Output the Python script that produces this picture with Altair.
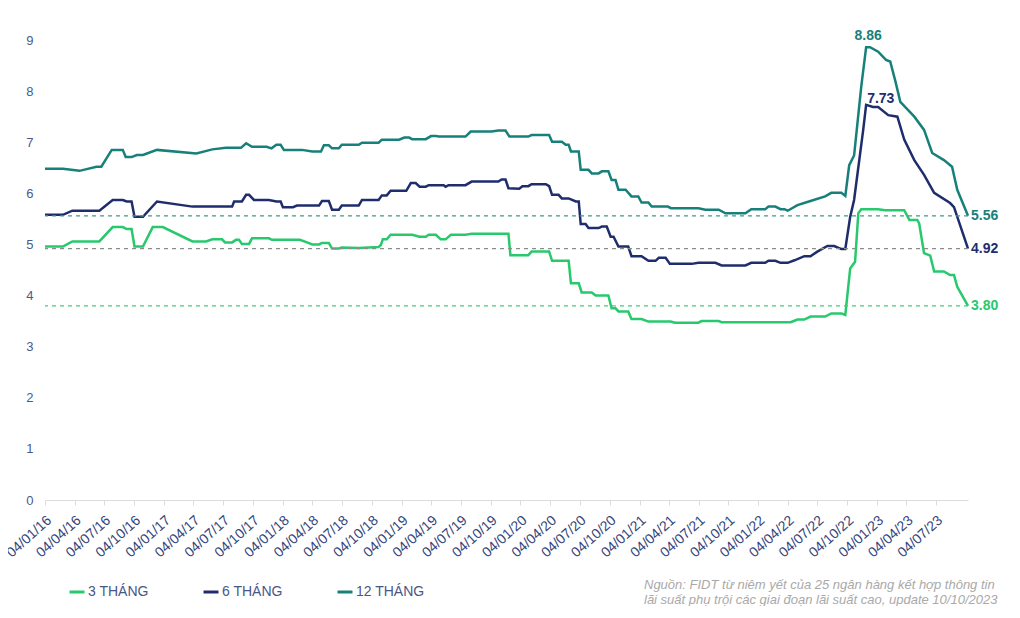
import altair as alt
import pandas as pd

series_names = ["3 THÁNG", "6 THÁNG", "12 THÁNG"]
series_colors = ["#27c96c", "#1f2d6d", "#17807a"]

dates_3m = ["2016-01-04", "2016-02-28", "2016-03-28", "2016-06-19", "2016-07-30", "2016-08-30",
            "2016-09-11", "2016-09-26", "2016-10-05", "2016-10-31", "2016-11-30", "2016-12-31",
            "2017-04-01", "2017-05-13", "2017-06-01", "2017-07-01", "2017-07-10", "2017-08-01",
            "2017-08-13", "2017-08-22", "2017-08-31", "2017-09-22", "2017-10-01", "2017-11-22",
            "2017-12-01", "2018-02-25", "2018-03-19", "2018-04-04", "2018-04-25", "2018-05-04",
            "2018-05-25", "2018-06-04", "2018-06-25", "2018-07-04", "2018-08-25", "2018-10-25",
            "2018-11-01", "2018-11-07", "2018-11-19", "2018-12-01", "2019-02-05", "2019-02-28",
            "2019-03-19", "2019-03-28", "2019-04-19", "2019-05-04", "2019-05-19", "2019-06-04",
            "2019-07-19", "2019-08-07", "2019-11-28", "2019-12-04", "2020-01-28", "2020-02-07",
            "2020-04-01", "2020-04-10", "2020-05-31", "2020-06-07", "2020-07-01", "2020-07-10",
            "2020-08-10", "2020-08-22", "2020-09-30", "2020-10-10", "2020-10-22", "2020-10-31",
            "2020-11-30", "2020-12-10", "2021-01-10", "2021-01-31", "2021-04-10", "2021-04-22",
            "2021-07-04", "2021-07-13", "2021-09-04", "2021-09-13", "2022-04-13", "2022-05-04",
            "2022-05-25", "2022-06-13", "2022-07-28", "2022-08-16", "2022-09-16", "2022-09-28",
            "2022-10-13", "2022-10-28", "2022-11-07", "2022-11-16", "2023-01-07", "2023-01-28",
            "2023-03-28", "2023-04-13", "2023-05-07", "2023-05-13", "2023-05-28", "2023-06-16",
            "2023-06-28", "2023-07-28", "2023-08-16", "2023-08-28", "2023-09-07", "2023-10-10"]
vals_3m = [4.96, 4.96, 5.06, 5.06, 5.34, 5.34,
           5.30, 5.30, 4.96, 4.96, 5.34, 5.34,
           5.06, 5.06, 5.10, 5.10, 5.04, 5.04,
           5.09, 5.09, 5.01, 5.01, 5.12, 5.12,
           5.09, 5.09, 5.04, 5.00, 5.00, 5.03,
           5.03, 4.92, 4.92, 4.94, 4.93, 4.95,
           4.99, 5.10, 5.10, 5.19, 5.19, 5.15,
           5.15, 5.19, 5.19, 5.10, 5.10, 5.19,
           5.19, 5.21, 5.21, 4.79, 4.79, 4.86,
           4.86, 4.68, 4.68, 4.24, 4.24, 4.06,
           4.06, 4.00, 4.00, 3.75, 3.75, 3.69,
           3.69, 3.54, 3.54, 3.49, 3.49, 3.47,
           3.47, 3.50, 3.50, 3.48, 3.48, 3.53,
           3.53, 3.59, 3.59, 3.65, 3.65, 3.62,
           4.53, 4.66, 5.61, 5.69, 5.69, 5.67,
           5.67, 5.48, 5.48, 5.41, 4.83, 4.78,
           4.47, 4.47, 4.40, 4.40, 4.17, 3.80]

dates_6m = ["2016-01-04", "2016-02-28", "2016-03-28", "2016-06-19", "2016-07-30", "2016-08-30",
            "2016-09-11", "2016-09-26", "2016-10-05", "2016-10-31", "2016-12-13", "2017-04-01",
            "2017-08-01", "2017-08-07", "2017-08-31", "2017-09-13", "2017-09-22", "2017-10-07",
            "2017-11-22", "2017-12-15", "2017-12-28", "2018-01-04", "2018-02-04", "2018-02-16",
            "2018-04-25", "2018-05-04", "2018-05-25", "2018-06-04", "2018-06-25", "2018-07-04",
            "2018-08-25", "2018-09-04", "2018-10-25", "2018-11-04", "2018-11-19", "2018-12-01",
            "2019-01-18", "2019-02-01", "2019-02-16", "2019-02-28", "2019-03-19", "2019-03-28",
            "2019-05-13", "2019-05-19", "2019-05-28", "2019-07-19", "2019-08-07", "2019-10-28",
            "2019-11-07", "2019-11-19", "2019-11-28", "2019-12-31", "2020-01-10", "2020-01-28",
            "2020-02-07", "2020-03-22", "2020-04-01", "2020-04-10", "2020-04-30", "2020-05-10",
            "2020-05-31", "2020-06-22", "2020-07-01", "2020-07-07", "2020-07-22", "2020-07-31",
            "2020-08-31", "2020-09-10", "2020-09-25", "2020-10-07", "2020-10-16", "2020-10-31",
            "2020-11-30", "2020-12-10", "2021-01-10", "2021-01-31", "2021-02-22", "2021-03-04",
            "2021-03-25", "2021-04-07", "2021-06-13", "2021-07-04", "2021-08-25", "2021-09-13",
            "2021-11-25", "2021-12-13", "2022-01-25", "2022-02-04", "2022-02-25", "2022-03-13",
            "2022-04-04", "2022-04-25", "2022-05-25", "2022-06-13", "2022-07-04", "2022-08-04",
            "2022-08-25", "2022-09-16", "2022-09-28", "2022-10-13", "2022-10-25", "2022-11-22",
            "2022-12-01", "2022-12-22", "2023-01-07", "2023-02-07", "2023-03-07", "2023-03-28",
            "2023-04-28", "2023-05-28", "2023-06-28", "2023-08-16", "2023-08-28", "2023-10-10"]
vals_6m = [5.58, 5.58, 5.66, 5.66, 5.87, 5.87,
           5.84, 5.84, 5.54, 5.54, 5.84, 5.74,
           5.74, 5.84, 5.84, 5.97, 5.97, 5.87,
           5.87, 5.84, 5.84, 5.73, 5.73, 5.76,
           5.76, 5.85, 5.85, 5.68, 5.68, 5.76,
           5.76, 5.87, 5.87, 5.96, 5.96, 6.05,
           6.05, 6.20, 6.20, 6.13, 6.13, 6.16,
           6.16, 6.13, 6.16, 6.16, 6.23, 6.23,
           6.27, 6.27, 6.10, 6.09, 6.14, 6.14,
           6.18, 6.18, 6.14, 5.97, 5.97, 5.90,
           5.90, 5.84, 5.84, 5.40, 5.40, 5.32,
           5.32, 5.35, 5.35, 5.15, 5.15, 4.96,
           4.96, 4.77, 4.77, 4.68, 4.68, 4.74,
           4.74, 4.62, 4.62, 4.64, 4.64, 4.59,
           4.59, 4.64, 4.64, 4.68, 4.68, 4.64,
           4.64, 4.69, 4.77, 4.77, 4.86, 4.97,
           4.97, 4.91, 4.91, 5.54, 5.87, 7.24,
           7.73, 7.69, 7.69, 7.53, 7.50, 7.05,
           6.65, 6.36, 6.01, 5.81, 5.73, 4.92]

dates_12m = ["2016-01-04", "2016-02-28", "2016-04-19", "2016-06-10", "2016-06-25", "2016-07-27",
             "2016-08-30", "2016-09-08", "2016-09-26", "2016-10-12", "2016-10-31", "2016-12-13",
             "2017-04-13", "2017-06-01", "2017-07-13", "2017-08-28", "2017-09-13", "2017-10-01",
             "2017-11-15", "2017-11-30", "2017-12-15", "2017-12-28", "2018-01-07", "2018-03-04",
             "2018-04-04", "2018-05-01", "2018-05-10", "2018-05-25", "2018-06-04", "2018-06-25",
             "2018-07-04", "2018-08-25", "2018-09-04", "2018-10-25", "2018-11-04", "2018-12-27",
             "2019-01-12", "2019-01-27", "2019-02-05", "2019-03-19", "2019-04-04", "2019-04-19",
             "2019-04-28", "2019-07-19", "2019-08-04", "2019-10-07", "2019-10-28", "2019-11-19",
             "2019-12-01", "2020-01-28", "2020-02-07", "2020-04-01", "2020-04-10", "2020-05-10",
             "2020-05-22", "2020-05-31", "2020-06-07", "2020-07-01", "2020-07-07", "2020-07-31",
             "2020-08-10", "2020-08-31", "2020-09-10", "2020-09-30", "2020-10-10", "2020-10-22",
             "2020-10-31", "2020-11-22", "2020-12-10", "2020-12-31", "2021-01-10", "2021-01-31",
             "2021-02-10", "2021-04-01", "2021-04-10", "2021-07-04", "2021-07-25", "2021-09-04",
             "2021-09-25", "2021-11-25", "2021-12-13", "2022-01-25", "2022-02-04", "2022-02-25",
             "2022-03-13", "2022-03-25", "2022-04-04", "2022-05-04", "2022-06-13", "2022-07-28",
             "2022-08-16", "2022-09-16", "2022-09-28", "2022-10-10", "2022-10-25", "2022-11-16",
             "2022-12-01", "2022-12-13", "2023-01-07", "2023-01-31", "2023-02-13", "2023-03-01",
             "2023-03-16", "2023-04-28", "2023-05-28", "2023-06-22", "2023-07-28", "2023-08-22",
             "2023-09-07", "2023-10-10"]
vals_12m = [6.48, 6.48, 6.44, 6.52, 6.52, 6.85,
            6.85, 6.71, 6.71, 6.75, 6.75, 6.85,
            6.78, 6.86, 6.89, 6.89, 6.98, 6.91,
            6.91, 6.88, 6.95, 6.95, 6.85, 6.85,
            6.82, 6.82, 6.94, 6.94, 6.88, 6.88,
            6.95, 6.95, 6.99, 6.99, 7.05, 7.05,
            7.09, 7.09, 7.06, 7.06, 7.12, 7.12,
            7.11, 7.11, 7.21, 7.21, 7.23, 7.23,
            7.11, 7.11, 7.14, 7.14, 7.01, 7.01,
            6.95, 6.95, 6.82, 6.82, 6.46, 6.46,
            6.39, 6.39, 6.43, 6.43, 6.26, 6.26,
            6.07, 6.07, 5.94, 5.94, 5.82, 5.82,
            5.74, 5.74, 5.71, 5.71, 5.68, 5.68,
            5.61, 5.61, 5.69, 5.69, 5.74, 5.74,
            5.69, 5.69, 5.66, 5.77, 5.85, 5.94,
            6.01, 6.01, 5.95, 6.55, 6.74, 8.09,
            8.86, 8.86, 8.77, 8.61, 8.58, 8.19,
            7.79, 7.50, 7.24, 6.79, 6.65, 6.52,
            6.07, 5.56]

tick_labels = ["04/01/16", "04/04/16", "04/07/16", "04/10/16", "04/01/17", "04/04/17", "04/07/17",
               "04/10/17", "04/01/18", "04/04/18", "04/07/18", "04/10/18", "04/01/19", "04/04/19",
               "04/07/19", "04/10/19", "04/01/20", "04/04/20", "04/07/20", "04/10/20", "04/01/21",
               "04/04/21", "04/07/21", "04/10/21", "04/01/22", "04/04/22", "04/07/22", "04/10/22",
               "04/01/23", "04/04/23", "04/07/23"]

ref_values = [5.56, 4.92, 3.80]
ref_colors = ["#3f9c86", "#8c8c8c", "#3fd07f"]

end_labels = ["5.56", "4.92", "3.80"]
end_values = [5.56, 4.92, 3.80]
end_colors = ["#17807a", "#1f2d6d", "#27c96c"]

peak_labels = ["8.86", "7.73"]
peak_dates = ["2022-12-07", "2022-12-01"]
peak_values = [8.86, 7.73]
peak_colors = ["#17807a", "#1f2d6d"]

source_lines = ["Nguồn: FIDT từ niêm yết của 25 ngân hàng kết hợp thông tin",
                "lãi suất phụ trội các giai đoạn lãi suất cao, update 10/10/2023"]

FONT = "Liberation Sans, Arial, sans-serif"

frames = []
for name, ds, vs in zip(series_names, [dates_3m, dates_6m, dates_12m], [vals_3m, vals_6m, vals_12m]):
    frames.append(pd.DataFrame({"date": pd.to_datetime(ds), "value": vs, "series": name}))
df = pd.concat(frames, ignore_index=True)

def to_dt(lbl):
    d, m, y = lbl.split("/")
    return alt.DateTime(year=2000 + int(y), month=int(m), date=int(d))

tick_values = [to_dt(t) for t in tick_labels]

x_scale = alt.Scale(domain=[alt.DateTime(year=2016, month=1, date=4),
                            alt.DateTime(year=2023, month=10, date=10)])
y_scale = alt.Scale(domain=[0, 9], nice=False)

x_axis = alt.Axis(values=tick_values, format="%d/%m/%y", labelAngle=-42,
                  labelAlign="right", labelBaseline="middle", labelPadding=13, labelOffset=4,
                  labelColor="#34447a", labelFontSize=14, labelFont=FONT,
                  domainColor="#dcdcdc", tickColor="#dcdcdc", tickSize=5,
                  grid=False, labelOverlap=False, labelFlush=False, labelBound=False,
                  title=None)
y_axis = alt.Axis(values=list(range(10)), grid=False, domain=False, ticks=False,
                  labelPadding=12, labelColor="#4a5a8c", labelFontSize=13,
                  labelFont=FONT, title=None)

x_enc = alt.X("date:T", scale=x_scale, axis=x_axis)
y_enc = alt.Y("value:Q", scale=y_scale, axis=y_axis)

lines = alt.Chart(df).mark_line(strokeWidth=2.5).encode(
    x=x_enc,
    y=y_enc,
    color=alt.Color("series:N",
                    scale=alt.Scale(domain=series_names, range=series_colors),
                    legend=alt.Legend(title=None, orient="none", legendX=23, legendY=543,
                                      direction="horizontal", symbolType="stroke",
                                      symbolStrokeWidth=3, symbolSize=225, labelFontSize=14,
                                      labelColor="#4b5685", labelFont=FONT, labelOffset=2,
                                      columnPadding=48)),
    order=alt.Order("date:T"),
)

ref_df = pd.DataFrame({"value": ref_values, "c": ref_colors})
rules = alt.Chart(ref_df).mark_rule(strokeDash=[4, 4], strokeWidth=1.3).encode(
    y=y_enc,
    stroke=alt.Stroke("c:N", scale=None),
)

end_df = pd.DataFrame({"date": pd.to_datetime(["2023-10-10"] * 3), "value": end_values,
                       "label": end_labels, "c": end_colors})
end_text = alt.Chart(end_df).mark_text(align="left", baseline="middle", dx=3, fontSize=14,
                                       fontWeight="bold", font=FONT).encode(
    x=x_enc,
    y=y_enc,
    text="label:N",
    fill=alt.Fill("c:N", scale=None),
)

peak_df = pd.DataFrame({"date": pd.to_datetime(peak_dates), "value": peak_values,
                        "label": peak_labels, "c": peak_colors})
peak1 = alt.Chart(peak_df.iloc[[0]]).mark_text(align="center", baseline="bottom", dy=-4,
                                               fontSize=14, fontWeight="bold", font=FONT).encode(
    x=x_enc,
    y=y_enc,
    text="label:N",
    fill=alt.Fill("c:N", scale=None),
)
peak2 = alt.Chart(peak_df.iloc[[1]]).mark_text(align="left", baseline="middle", dx=1, dy=-6,
                                               fontSize=14, fontWeight="bold", font=FONT).encode(
    x=x_enc,
    y=y_enc,
    text="label:N",
    fill=alt.Fill("c:N", scale=None),
)

note = alt.Chart(pd.DataFrame({"k": [0]})).mark_text(
    align="left", baseline="top", fontSize=13, fontStyle="italic", color="#a9a9a9",
    lineHeight=15, font=FONT).encode(
    x=alt.value(599), y=alt.value(539), text=alt.value(source_lines))

chart = alt.layer(lines, rules, end_text, peak1, peak2, note).properties(
    width=923, height=460,
    autosize=alt.AutoSizeParams(type="none"),
    padding={"left": 37, "top": 32, "right": 44, "bottom": 106},
    background="white",
).configure_view(stroke=None)

chart.save("out.html", embed_options={"renderer": "svg", "actions": False})
